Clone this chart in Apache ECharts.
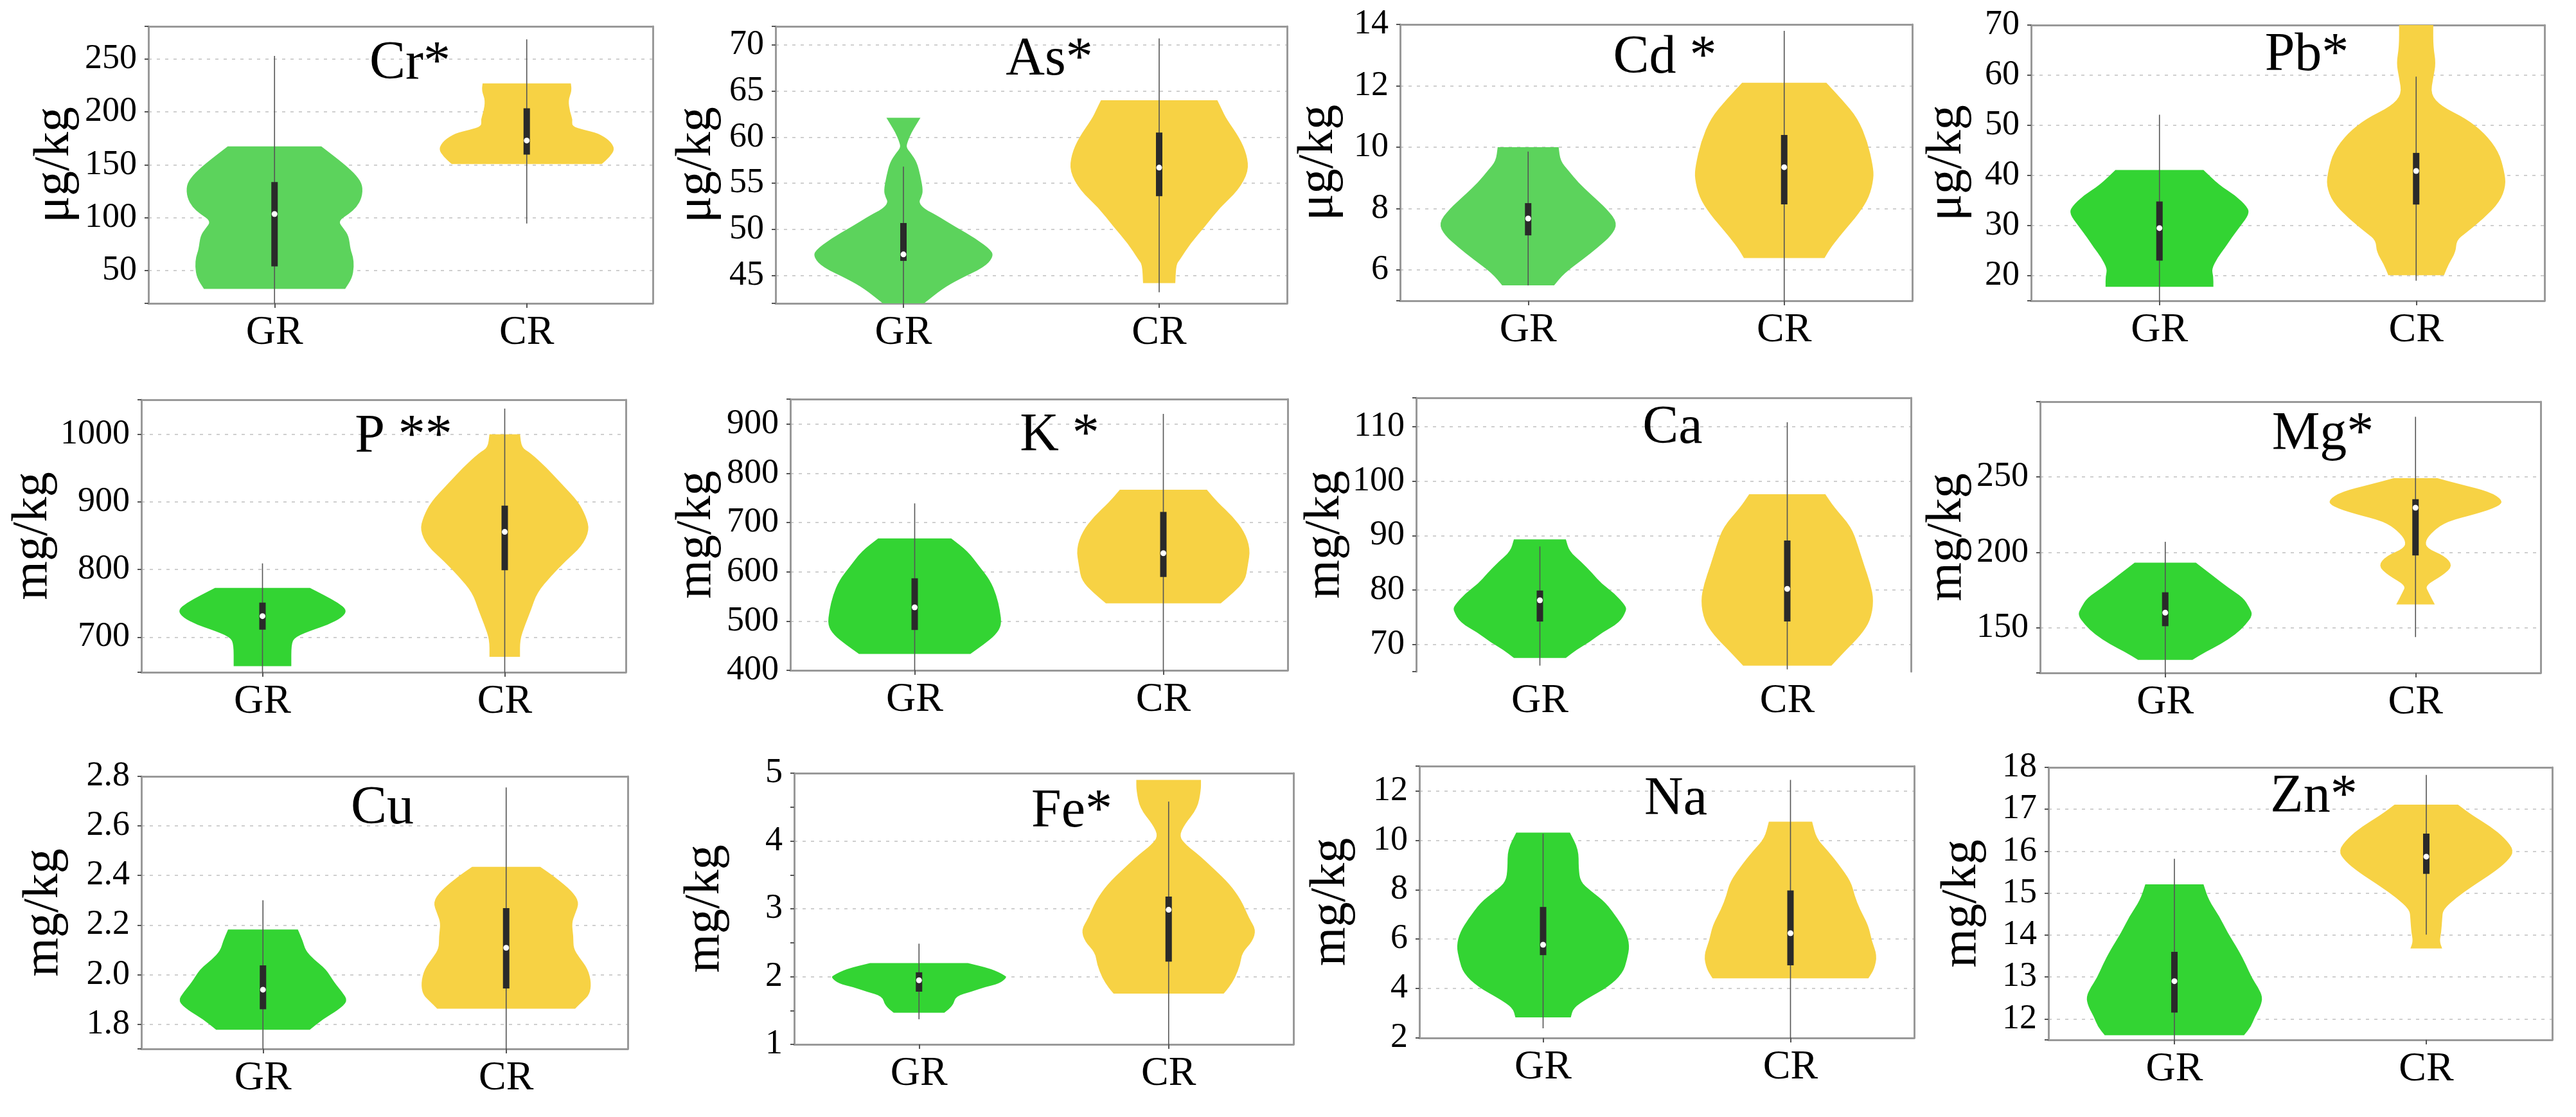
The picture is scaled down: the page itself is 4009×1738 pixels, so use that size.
<!DOCTYPE html>
<html><head><meta charset="utf-8">
<script src="https://cdn.jsdelivr.net/npm/echarts@6/dist/echarts.min.js"></script>
<style>html,body{margin:0;padding:0;background:#fff}#c{width:4009px;height:1738px}</style>
</head><body><div id="c"></div>
<script>
// ---------- DATA ----------
const categories = ['GR', 'CR'];
const titles = ['Cr*', 'As*', 'Cd *', 'Pb*', 'P **', 'K *', 'Ca', 'Mg*', 'Cu', 'Fe*', 'Na', 'Zn*'];
const units = ['μg/kg', 'μg/kg', 'μg/kg', 'μg/kg', 'mg/kg', 'mg/kg', 'mg/kg', 'mg/kg', 'mg/kg', 'mg/kg', 'mg/kg', 'mg/kg'];

// y-axis extents [min, max]
const crRange = [19, 281], asRange = [42, 72], cdRange = [5, 14], pbRange = [15, 70];
const pRange = [648, 1051], kRange = [400, 951], caRange = [65, 115.3], mgRange = [120, 300];
const cuRange = [1.7, 2.8], feRange = [1, 5], naRange = [2, 13], znRange = [11.5, 18];

// tick labels
const crTicks = ['50', '100', '150', '200', '250'];
const asTicks = ['45', '50', '55', '60', '65', '70'];
const cdTicks = ['6', '8', '10', '12', '14'];
const pbTicks = ['20', '30', '40', '50', '60', '70'];
const pTicks = ['700', '800', '900', '1000'];
const kTicks = ['400', '500', '600', '700', '800', '900'];
const caTicks = ['70', '80', '90', '100', '110'];
const mgTicks = ['150', '200', '250'];
const cuTicks = ['1.8', '2.0', '2.2', '2.4', '2.6', '2.8'];
const feTicks = ['1', '2', '3', '4', '5'];
const naTicks = ['2', '4', '6', '8', '10', '12'];
const znTicks = ['12', '13', '14', '15', '16', '17', '18'];

// violin outlines: [value, relative density width], top to bottom
const crGR = [[167.5,0.53],[150.7,0.79],[140,0.93],[130.5,1.0],[119,0.99],[110,0.93],[103.5,0.84],[96.7,0.72],[90,0.78],[83,0.84],[70,0.86],[63,0.89],[54,0.9],[43,0.88],[32.7,0.8]];
const crCR = [[227,0.5],[220,0.51],[211,0.47],[200,0.49],[193,0.52],[186.5,0.51],[183,0.65],[179.8,0.81],[173,0.94],[165,1.0],[157.4,0.94],[150.7,0.85]];
const asGR = [[62.1,0.19],[61.3,0.14],[60.5,0.09],[59.6,0.05],[58.9,0.03],[58.3,0.08],[57.3,0.15],[55.8,0.19],[54.2,0.22],[53.5,0.2],[52.9,0.17],[52.2,0.24],[51.6,0.36],[50.3,0.58],[49.0,0.81],[47.7,0.99],[46.95,1.0],[45.9,0.9],[44.6,0.62],[43.6,0.44],[42,0.23]];
const asCR = [[64.0,0.65],[63.0,0.7],[62.0,0.75],[59.9,0.9],[58.1,0.98],[56.3,1.0],[54.2,0.88],[52.4,0.68],[50.3,0.51],[48.5,0.35],[46.7,0.23],[46.2,0.19],[44.2,0.18]];
const cdGR = [[10.0,0.34],[9.55,0.36],[9.24,0.45],[8.85,0.56],[8.46,0.7],[7.99,0.88],[7.52,1.0],[7.13,0.93],[6.74,0.78],[6.35,0.61],[5.89,0.4],[5.5,0.29]];
const cdCR = [[12.1,0.47],[11.57,0.64],[10.95,0.82],[10.17,0.93],[9.39,0.99],[9.0,1.0],[8.38,0.95],[7.83,0.83],[7.21,0.65],[6.74,0.52],[6.39,0.45]];
const pbGR = [[41.1,0.49],[38.0,0.67],[36.1,0.84],[33.7,0.98],[32.3,1.0],[29.9,0.9],[27.5,0.8],[25.6,0.73],[23.7,0.65],[21.3,0.58],[19.9,0.6],[17.8,0.6]];
const pbCR = [[70,0.19],[65.7,0.19],[62.4,0.22],[59.5,0.19],[56.2,0.16],[53.8,0.28],[51.4,0.55],[48.5,0.76],[44.7,0.92],[40.9,0.98],[38.0,1.0],[34.7,0.93],[31.4,0.75],[28.5,0.55],[27.1,0.45],[24.7,0.44],[22.3,0.36],[20.1,0.31]];
const pGR = [[772.7,0.56],[761.8,0.73],[750.9,0.89],[740,1.0],[729,0.94],[718,0.77],[710.9,0.6],[700,0.38],[689,0.34],[657,0.34]];
const pCR = [[1000,0.18],[980,0.2],[972.7,0.3],[950.9,0.49],[925.5,0.68],[900,0.87],[878,0.96],[858,1.0],[834.5,0.91],[812.7,0.72],[790.9,0.55],[765.5,0.38],[740,0.31],[718,0.24],[696.4,0.18],[670.9,0.18]];
const kGR = [[668,0.42],[642,0.61],[612,0.74],[582,0.87],[552,0.94],[522,0.98],[492,1.0],[472,0.93],[452,0.79],[433.4,0.64]];
const kCR = [[767,0.5],[742,0.62],[712,0.8],[682,0.93],[647,1.0],[612,0.97],[582,0.94],[557,0.8],[536.2,0.66]];
const caGR = [[89.3,0.3],[87.1,0.34],[85.3,0.47],[83.0,0.61],[81.2,0.71],[79.4,0.86],[77.1,0.99],[76.2,1.0],[74.0,0.92],[72.2,0.72],[70.4,0.57],[69.0,0.42],[67.5,0.3]];
const caCR = [[97.6,0.44],[95.2,0.54],[91.6,0.74],[88.0,0.82],[84.4,0.89],[81.2,0.96],[78.0,1.0],[74.4,0.96],[71.7,0.85],[69.0,0.68],[66.1,0.51]];
const mgGR = [[193.1,0.35],[184.6,0.54],[176.5,0.72],[170,0.89],[163.4,0.96],[158.5,1.0],[152,0.92],[145.4,0.8],[138.9,0.63],[134,0.46],[128.6,0.31]];
const mgCR = [[249.2,0.25],[245.1,0.52],[240.2,0.85],[234.5,1.0],[230.4,0.95],[225.5,0.69],[220.6,0.36],[214.1,0.2],[207.5,0.11],[202.6,0.13],[197.7,0.33],[191.2,0.43],[184.6,0.31],[178.1,0.11],[173.2,0.15],[165.4,0.22]];
const cuGR = [[2.182,0.41],[2.134,0.47],[2.097,0.5],[2.06,0.6],[2.022,0.74],[1.967,0.84],[1.93,0.93],[1.893,1.0],[1.856,0.88],[1.819,0.7],[1.777,0.55]];
const cuCR = [[2.435,0.4],[2.394,0.57],[2.338,0.77],[2.292,0.86],[2.245,0.81],[2.208,0.77],[2.153,0.79],[2.106,0.79],[2.069,0.86],[2.022,0.96],[1.967,1.0],[1.92,0.98],[1.893,0.9],[1.862,0.81]];
const feGR = [[2.198,0.56],[2.114,0.83],[2.013,0.99],[1.98,1.0],[1.895,0.92],[1.844,0.75],[1.777,0.6],[1.71,0.42],[1.574,0.39],[1.466,0.29]];
const feCR = [[4.9,0.37],[4.75,0.37],[4.48,0.33],[4.24,0.18],[4.07,0.12],[3.94,0.2],[3.8,0.34],[3.6,0.51],[3.36,0.7],[3.13,0.83],[2.86,0.92],[2.69,1.0],[2.52,0.96],[2.35,0.84],[2.18,0.82],[1.98,0.76],[1.84,0.69],[1.75,0.63]];
const naGR = [[10.31,0.31],[9.62,0.41],[8.88,0.41],[8.32,0.43],[7.95,0.55],[7.49,0.72],[6.84,0.86],[6.28,0.96],[5.73,1.0],[5.17,0.97],[4.61,0.92],[4.06,0.75],[3.59,0.51],[3.22,0.35],[2.83,0.32]];
const naCR = [[10.75,0.25],[10.08,0.3],[9.62,0.42],[9.06,0.55],[8.32,0.7],[7.76,0.74],[7.21,0.8],[6.56,0.9],[5.91,0.94],[5.35,1.0],[4.8,0.97],[4.41,0.9]];
const znGR = [[15.21,0.33],[14.83,0.39],[14.45,0.51],[14.07,0.6],[13.63,0.73],[13.3,0.81],[12.97,0.88],[12.75,0.95],[12.53,1.0],[12.31,0.98],[12.04,0.91],[11.82,0.87],[11.61,0.79]];
const znCR = [[17.11,0.36],[16.86,0.52],[16.59,0.73],[16.31,0.89],[16.01,1.0],[15.76,0.92],[15.49,0.76],[15.16,0.52],[14.89,0.34],[14.61,0.19],[14.39,0.18],[14.07,0.17],[13.85,0.15],[13.68,0.18]];

// box stats: [whiskerLow, Q1, median, Q3, whiskerHigh]
const crBoxGR = [19, 54, 103.5, 133.8, 253],   crBoxCR = [94.5, 159.7, 173, 203.5, 268.7];
const asBoxGR = [42, 46.6, 47.3, 50.7, 56.8],  asBoxCR = [43.2, 53.6, 56.7, 60.5, 70.7];
const cdBoxGR = [5.5, 7.13, 7.68, 8.18, 9.86], cdBoxCR = [5.0, 8.14, 9.35, 10.4, 13.79];
const pbBoxGR = [15, 23.0, 29.5, 34.8, 52.1],  pbBoxCR = [19.0, 34.2, 40.9, 44.5, 59.7];
const pBoxGR = [648, 711, 731, 751, 809],      pBoxCR = [648, 798.9, 855.6, 894.5, 1038];
const kBoxGR = [400, 482, 528, 587, 739],      kBoxCR = [400, 589.6, 638, 722, 921];
const caBoxGR = [66.1, 74.2, 78.1, 79.9, 88.0], caBoxCR = [65.4, 74.2, 80.2, 89.1, 110.8];
const mgBoxGR = [120, 151, 160, 173.5, 207],   mgBoxCR = [143.8, 198, 229.6, 235.3, 290];
const cuBoxGR = [1.7, 1.86, 1.939, 2.037, 2.30], cuBoxCR = [1.7, 1.944, 2.108, 2.268, 2.755];
const feBoxGR = [1.371, 1.777, 1.945, 2.063, 2.485], feBoxCR = [1.0, 2.22, 2.985, 3.18, 4.58];
const naBoxGR = [2.39, 5.35, 5.77, 7.3, 10.27], naBoxCR = [2.0, 4.94, 6.24, 7.97, 12.44];
const znBoxGR = [11.5, 12.15, 12.9, 13.6, 15.82], znBoxCR = [14.01, 15.46, 15.87, 16.42, 17.82];

// ---------- ASSEMBLY ----------
const ranges = [crRange, asRange, cdRange, pbRange, pRange, kRange, caRange, mgRange, cuRange, feRange, naRange, znRange];
const ticks = [crTicks, asTicks, cdTicks, pbTicks, pTicks, kTicks, caTicks, mgTicks, cuTicks, feTicks, naTicks, znTicks];
const outlinesGR = [crGR, asGR, cdGR, pbGR, pGR, kGR, caGR, mgGR, cuGR, feGR, naGR, znGR];
const outlinesCR = [crCR, asCR, cdCR, pbCR, pCR, kCR, caCR, mgCR, cuCR, feCR, naCR, znCR];
const boxesGR = [crBoxGR, asBoxGR, cdBoxGR, pbBoxGR, pBoxGR, kBoxGR, caBoxGR, mgBoxGR, cuBoxGR, feBoxGR, naBoxGR, znBoxGR];
const boxesCR = [crBoxCR, asBoxCR, cdBoxCR, pbBoxCR, pBoxCR, kBoxCR, caBoxCR, mgBoxCR, cuBoxCR, feBoxCR, naBoxCR, znBoxCR];

// layout (pixels)
const layout = [
  {left:231, top:41, width:785, height:431, gap:106, tx:638, ty:124},
  {left:1207, top:41, width:796, height:431, gap:83, tx:1633, ty:118},
  {left:2179, top:38, width:797, height:430, gap:87, tx:2591, ty:115},
  {left:3161, top:39, width:799, height:429, gap:91, tx:3590, ty:111},
  {left:220, top:622, width:754, height:424, gap:125, tx:628, ty:705},
  {left:1230, top:621, width:774, height:422, gap:106, tx:1649, ty:703},
  {left:2204, top:619, width:770, height:426, gap:102, tx:2603, ty:691},
  {left:3175, top:625, width:779, height:422, gap:105, tx:3615, ty:701},
  {left:220, top:1208, width:757, height:424, gap:112, tx:595, ty:1283},
  {left:1236, top:1203, width:777, height:422, gap:99, tx:1668, ty:1288},
  {left:2209, top:1192, width:770, height:423, gap:98, tx:2608, ty:1269},
  {left:3188, top:1194, width:784, height:424, gap:95, tx:3601, ty:1265}
];
const FONT = '"Liberation Serif","Times New Roman",serif';
const GREEN_LIGHT = '#5cd35c', GREEN = '#33d433', YELLOW = '#f7d244';
const BORDER = '#999999';
const noBottomBorder = [6];        // Ca panel has no bottom spine
const lightGreenPanels = [0, 1, 2];
const minorTickPanels = [9];

function tickFormatter(list) {
  return function (v) {
    for (const t of list) { if (Math.abs(parseFloat(t) - v) < 1e-6 * Math.max(1, Math.abs(v))) return t; }
    return '';
  };
}

// smooth side path through midpoints (keeps flat cut ends sharp)
function sidePath(pts, first) {
  let d = (first ? 'M' : 'L') + pts[0][0].toFixed(2) + ' ' + pts[0][1].toFixed(2);
  if (pts.length === 2) return d + 'L' + pts[1][0].toFixed(2) + ' ' + pts[1][1].toFixed(2);
  const mid = (a, b) => [(a[0] + b[0]) / 2, (a[1] + b[1]) / 2];
  let m = mid(pts[0], pts[1]);
  d += 'L' + m[0].toFixed(2) + ' ' + m[1].toFixed(2);
  for (let k = 1; k < pts.length - 1; k++) {
    m = mid(pts[k], pts[k + 1]);
    d += 'Q' + pts[k][0].toFixed(2) + ' ' + pts[k][1].toFixed(2) + ' ' + m[0].toFixed(2) + ' ' + m[1].toFixed(2);
  }
  const last = pts[pts.length - 1];
  return d + 'L' + last[0].toFixed(2) + ' ' + last[1].toFixed(2);
}

function makeRender(i, fills) {
  const outs = [outlinesGR[i], outlinesCR[i]];
  return function (params, api) {
    const ci = api.value(0);
    const outline = outs[ci];
    const band = api.size([1, 0])[0];
    const half = band * 0.35;
    const cx = api.coord([ci, api.value(3)])[0];
    const y = v => api.coord([ci, v])[1];
    const right = outline.map(d => [cx + d[1] * half, y(d[0])]);
    const left = outline.slice().reverse().map(d => [cx - d[1] * half, y(d[0])]);
    const pathData = sidePath(right, true) + sidePath(left, false) + 'Z';
    return {
      type: 'group',
      children: [
        {type: 'path', shape: {pathData: pathData}, style: {fill: fills[ci]}},
        {type: 'line', shape: {x1: cx, y1: y(api.value(1)), x2: cx, y2: y(api.value(5))}, style: {stroke: '#555', lineWidth: 1.6}},
        {type: 'line', shape: {x1: cx, y1: y(api.value(2)), x2: cx, y2: y(api.value(4))}, style: {stroke: '#2a2a2a', lineWidth: 10}},
        {type: 'circle', shape: {cx: cx, cy: y(api.value(3)), r: 4.5}, style: {fill: '#ffffff'}}
      ]
    };
  };
}

const option = {animation: false, backgroundColor: '#fff', textStyle: {fontFamily: FONT},
  grid: [], xAxis: [], yAxis: [], series: [], graphic: []};

for (let i = 0; i < 12; i++) {
  const L = layout[i];
  const rg = ranges[i];
  const tk = ticks[i];
  const step = parseFloat(tk[1]) - parseFloat(tk[0]);
  const noBottom = noBottomBorder.includes(i);
  option.grid.push({left: L.left, top: L.top, width: L.width, height: L.height, containLabel: false, outerBoundsMode: 'none'});
  option.xAxis.push({gridIndex: i, type: 'category', data: categories, position: 'bottom', boundaryGap: true,
    axisLine: {show: !noBottom, onZero: false, lineStyle: {color: BORDER, width: 3}},
    axisTick: {show: !noBottom, alignWithLabel: true, length: 7, lineStyle: {color: '#555', width: 2}},
    axisLabel: {margin: 14, fontFamily: FONT, fontSize: 64, color: '#000'},
    splitLine: {show: false}});
  option.xAxis.push({gridIndex: i, type: 'category', data: categories, position: 'top', boundaryGap: true,
    axisLine: {show: true, onZero: false, lineStyle: {color: BORDER, width: 3}},
    axisTick: {show: false}, axisLabel: {show: false}, splitLine: {show: false}});
  option.yAxis.push({gridIndex: i, type: 'value', min: rg[0], max: rg[1], position: 'left',
    splitNumber: Math.round((rg[1] - rg[0]) / step),
    name: units[i], nameLocation: 'middle', nameGap: L.gap,
    nameTextStyle: {fontFamily: FONT, fontSize: 78, color: '#000'},
    axisLine: {show: true, onZero: false, lineStyle: {color: BORDER, width: 3}},
    axisTick: {show: true, length: 6, lineStyle: {color: '#555', width: 2}},
    minorTick: {show: minorTickPanels.includes(i), splitNumber: 2, length: 6, lineStyle: {color: '#555', width: 2}},
    axisLabel: {margin: 18, fontFamily: FONT, fontSize: 54, color: '#000', formatter: tickFormatter(tk)},
    splitLine: {show: true, showMinLine: false, showMaxLine: false, lineStyle: {color: '#cfcfcf', width: 2, type: [5, 8]}}});
  option.yAxis.push({gridIndex: i, type: 'value', min: rg[0], max: rg[1], position: 'right',
    axisLine: {show: true, onZero: false, lineStyle: {color: BORDER, width: 3}},
    axisTick: {show: false}, axisLabel: {show: false}, splitLine: {show: false}});
  const fills = [lightGreenPanels.includes(i) ? GREEN_LIGHT : GREEN, YELLOW];
  option.series.push({type: 'custom', xAxisIndex: 2 * i, yAxisIndex: 2 * i, clip: true, silent: true,
    data: [[0].concat(boxesGR[i]), [1].concat(boxesCR[i])],
    renderItem: makeRender(i, fills)});
  option.graphic.push({type: 'text', x: L.tx, y: L.ty + 18, z: 100,
    style: {text: titles[i], fontFamily: FONT, fontSize: 84, fill: '#000', align: 'center', verticalAlign: 'bottom'}});
}

const chart = echarts.init(document.getElementById('c'), null, {renderer: 'canvas'});
chart.setOption(option);
</script>
</body></html>
